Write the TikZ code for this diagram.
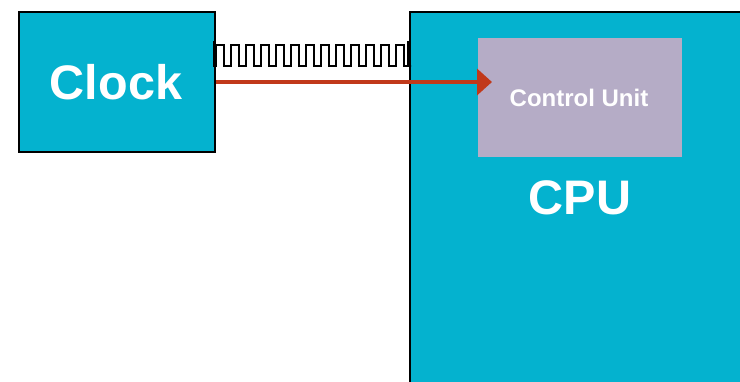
\documentclass[tikz,border=0pt]{standalone}
\usepackage{fontspec}
\setmainfont{Liberation Sans}
\usetikzlibrary{arrows.meta,calc}
\definecolor{cyanbox}{HTML}{04B2CF}
\definecolor{lav}{HTML}{B5ACC6}
\definecolor{arrred}{HTML}{C1391A}
\tikzset{
  blockbox/.style={draw=black, line width=2pt, fill=cyanbox, inner sep=0pt},
  cubox/.style={fill=lav, inner sep=0pt},
  wavestyle/.style={draw=black, line width=1.6pt, line join=miter},
  sigarrow/.style={draw=arrred, line width=4.5pt, -{Triangle[length=15pt,width=26pt]}},
  bigtext/.style={text=white, font=\bfseries\fontsize{48.5}{52}\selectfont, inner sep=0pt},
  smalltext/.style={text=white, font=\bfseries\fontsize{24}{27}\selectfont, inner sep=0pt}
}
\begin{document}
\begin{tikzpicture}[x=1pt,y=-1pt]
\useasboundingbox (0,0) rectangle (740,381);
\clip (0,0) rectangle (740,381);
% CPU box (extends beyond the right and bottom edges)
\node[blockbox, minimum width=340pt, minimum height=380pt, anchor=north west] (cpu) at (409,11) {};
\node[bigtext] (cputext) at (580,198) {CPU};
% Control Unit
\node[cubox, minimum width=204pt, minimum height=119pt, anchor=north west] (cu) at (478,38) {};
\node[smalltext] (cutext) at (579,98) {Control Unit};
% Clock
\node[blockbox, minimum width=196pt, minimum height=140pt, anchor=north west] (clock) at (18,11) {};
\node[bigtext] (clocktext) at (116,82) {Clock};
% clock waveform
\draw[wavestyle] (214,41) -- (214,66) -- ++(2,0)
  \foreach \i in {1,...,13} { -- ++(0,-21) -- ++(8,0) -- ++(0,21) -- ++(7,0) }
  -- (408,66) -- (408,41);
% signal arrow
\draw[sigarrow] (clock.east) -- ($(clock.east -| cu.west)+(14,0)$);
\end{tikzpicture}
\end{document}
